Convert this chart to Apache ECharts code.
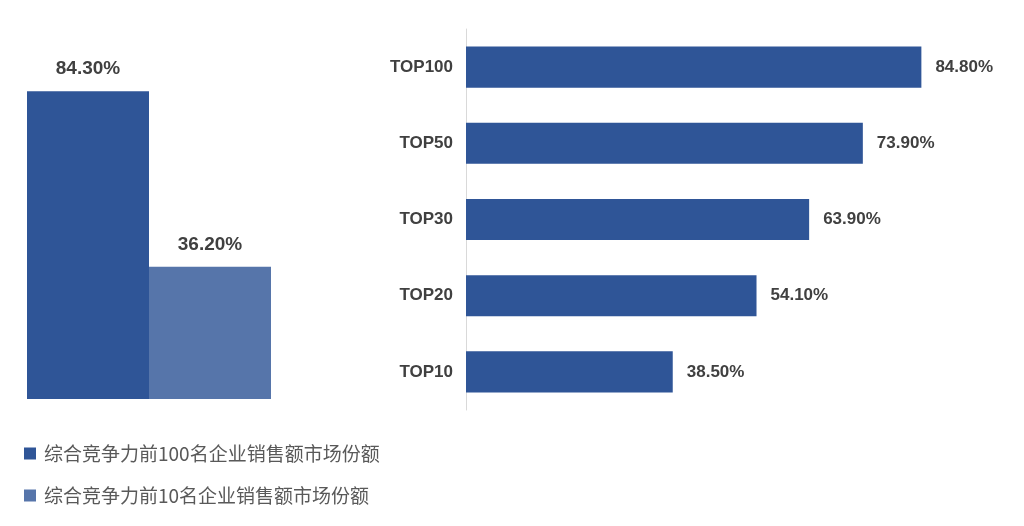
<!DOCTYPE html>
<html><head><meta charset="utf-8">
<script src="https://cdn.jsdelivr.net/npm/echarts@6/dist/echarts.min.js"></script>
<style>html,body{margin:0;padding:0;background:#fff}#c{width:1024px;height:526px}</style>
</head><body><div id="c"></div>
<script>
const seriesNames = ['综合竞争力前100名企业销售额市场份额', '综合竞争力前10名企业销售额市场份额'];
const leftValues = [84.3, 36.2];
const rightCategories = ['TOP10', 'TOP20', 'TOP30', 'TOP50', 'TOP100'];
const rightValues = [38.5, 54.1, 63.9, 73.9, 84.8];

const lblFont = 'Liberation Sans, Arial, sans-serif';
const chart = echarts.init(document.getElementById('c'));
chart.setOption({
  animation: false,
  backgroundColor: '#fff',
  legend: {
    data: seriesNames,
    orient: 'vertical',
    left: 19, top: 439,
    icon: 'rect', itemWidth: 12, itemHeight: 12,
    itemGap: 23,
    textStyle: { fontFamily: 'Noto Sans CJK SC', fontSize: 19, color: '#595959', padding: [0, 0, 0, 3] }
  },
  grid: [
    { left: 27, right: 753, top: 34, bottom: 127 },
    { left: 466, right: 21, top: 29, bottom: 116 }
  ],
  xAxis: [
    { gridIndex: 0, type: 'category', data: [''], show: false },
    { gridIndex: 1, type: 'value', min: 0, max: 100, show: false }
  ],
  yAxis: [
    { gridIndex: 0, type: 'value', min: 0, max: 100, show: false },
    { gridIndex: 1, type: 'category', data: rightCategories,
      axisLine: { show: true, lineStyle: { color: '#d9d9d9', width: 1 } },
      axisTick: { show: false },
      axisLabel: { margin: 13, fontFamily: lblFont, fontWeight: 'bold', fontSize: 17, color: '#404040' },
      splitLine: { show: false } }
  ],
  series: [
    { name: seriesNames[0], type: 'bar', xAxisIndex: 0, yAxisIndex: 0,
      data: [leftValues[0]], barGap: '0%', barCategoryGap: '0%',
      itemStyle: { color: '#2F5597' },
      label: { show: true, position: 'top', distance: 13, formatter: p => p.value.toFixed(2) + '%',
        fontFamily: lblFont, fontWeight: 'bold', fontSize: 19, color: '#404040' } },
    { name: seriesNames[1], type: 'bar', xAxisIndex: 0, yAxisIndex: 0,
      data: [leftValues[1]], barGap: '0%', barCategoryGap: '0%',
      itemStyle: { color: '#5675AA' },
      label: { show: true, position: 'top', distance: 13, formatter: p => p.value.toFixed(2) + '%',
        fontFamily: lblFont, fontWeight: 'bold', fontSize: 19, color: '#404040' } },
    { name: 'TOP', type: 'bar', xAxisIndex: 1, yAxisIndex: 1,
      data: rightValues, barCategoryGap: '46%',
      itemStyle: { color: '#2F5597' },
      label: { show: true, position: 'right', distance: 14, formatter: p => p.value.toFixed(2) + '%',
        fontFamily: lblFont, fontWeight: 'bold', fontSize: 17, color: '#404040' } }
  ]
});
</script></body></html>
